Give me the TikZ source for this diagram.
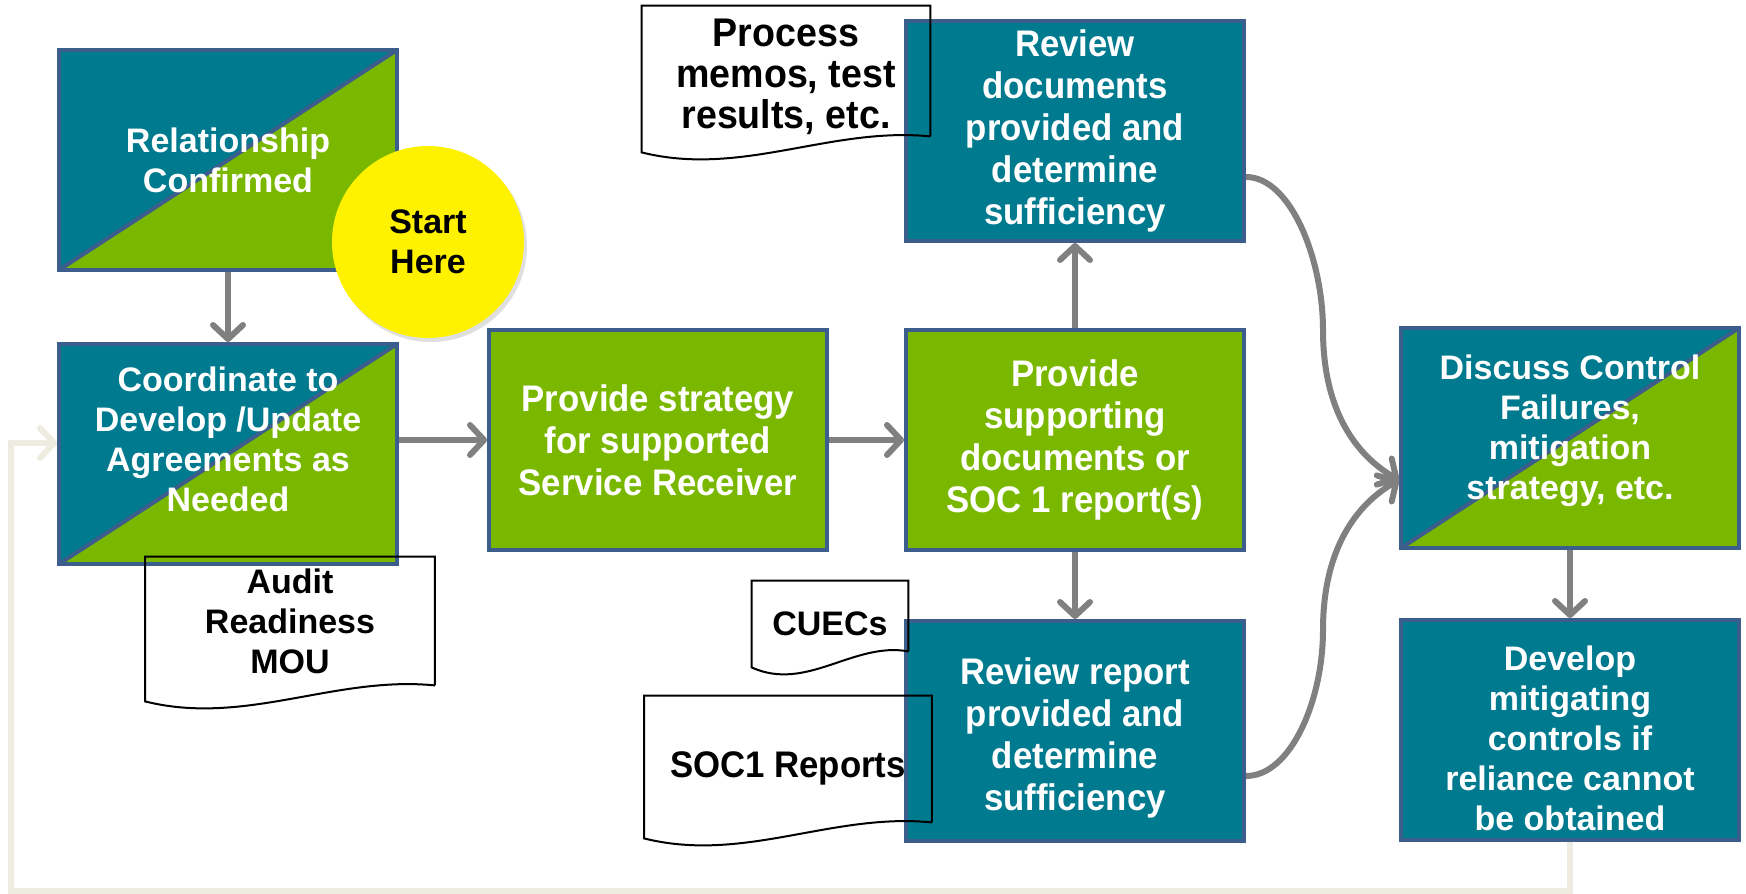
\documentclass[tikz,border=0pt]{standalone}
\usepackage{fontspec}
\setmainfont{Liberation Sans}
\newfontfamily\narrowsans[FakeStretch=0.94]{Liberation Sans}
\usepackage{tikz}
\usetikzlibrary{arrows.meta,shadows}
\definecolor{boxteal}{HTML}{007A8F}
\definecolor{boxgreen}{HTML}{7AB800}
\definecolor{boxedge}{HTML}{3B5E8C}
\definecolor{arrowgray}{HTML}{808080}
\definecolor{loopbeige}{HTML}{EEECE1}
\newcommand\wideb{\bfseries\fontsize{17pt}{20pt}\selectfont}
\newcommand\narrowb{\narrowsans\bfseries\fontsize{18.5pt}{21pt}\selectfont}
\newcommand\docframe[2]{\draw[line width=1pt] (#1.south east) -- (#1.north east) -- (#1.north west) -- ([yshift=-8pt]#1.south west) .. controls +(#2,25) and +(-#2,-10) .. (#1.south east);}

\begin{document}
\begin{tikzpicture}[x=0.5pt, y=-0.5pt,
  box/.style={draw=boxedge, line width=2pt, minimum width=169pt, minimum height=110pt, inner sep=2pt, text=white, align=center, font=\wideb},
  tealbox/.style={box, fill=boxteal},
  greenbox/.style={box, fill=boxgreen},
  splitbox/.style={box, fill=boxgreen, path picture={
    \fill[boxteal] (path picture bounding box.south west) -- (path picture bounding box.north west) -- (path picture bounding box.north east) -- cycle;
    \draw[boxedge, line width=2pt] (path picture bounding box.south west) -- (path picture bounding box.north east);}},
  doc/.style={inner sep=0pt, align=center, font=\wideb},
  startdot/.style={circle, fill=yellow, minimum size=96pt, align=center, font=\wideb, drop shadow={shadow xshift=1.5pt, shadow yshift=-2pt, opacity=0.25}},
  flow/.style={arrowgray, line width=3pt, -{Straight Barb[length=7pt, width=15pt, round]}},
  back/.style={flow, loopbeige}]
  \path[use as bounding box, fill=white] (0,0) rectangle (1746,894);

  \node[splitbox] (rel) at (228,160) {Relationship\\Confirmed};
  \node[splitbox] (coord) at (228,454) {Coordinate to\\Develop /Update\\Agreements as\\Needed\rule[-15pt]{0pt}{0pt}};
  \node[greenbox, font=\narrowb] (strat) at (658,440) {Provide strategy\\for supported\\Service Receiver};
  \node[greenbox, font=\narrowb] (supp) at (1075,440) {Provide\\supporting\\documents or\\SOC 1 report(s)};
  \node[tealbox, font=\narrowb] (revdoc) at (1075,131) {Review\\documents\\provided and\\determine\\sufficiency};
  \node[tealbox, font=\narrowb] (revrep) at (1075,731) {\rule{0pt}{20pt}Review report\\provided and\\determine\\sufficiency};
  \node[splitbox] (disc) at (1570,438) {Discuss Control\\Failures,\\mitigation\\strategy, etc.\rule[-11pt]{0pt}{0pt}};
  \node[tealbox] (dev) at (1570,730) {\rule{0pt}{21pt}Develop\\mitigating\\controls if\\reliance cannot\\be obtained};
  \node[startdot] (start) at (428,242) {Start\\Here};

  \node[doc, minimum width=144pt, minimum height=65pt, font=\narrowsans\bfseries\fontsize{20pt}{20.5pt}\selectfont] (memo) at (786,71) {\rule{0pt}{20pt}Process\\memos, test\\results, etc.};
  \node[doc, minimum width=144.5pt, minimum height=64pt] (mou) at (290,621) {Audit\\Readiness\\MOU};
  \node[doc, minimum width=78pt, minimum height=35pt] (cuec) at (830,616) {\rule{0pt}{20pt}CUECs};
  \node[doc, minimum width=143.5pt, minimum height=63pt, font=\narrowb] (soc) at (788,759) {\rule{0pt}{22pt}SOC1 Reports};
  \docframe{memo}{100}
  \docframe{mou}{100}
  \docframe{cuec}{55}
  \docframe{soc}{100}

  \draw[flow] (rel) -- (coord);
  \draw[flow] (coord.east |- strat.west) -- (strat);
  \draw[flow] (strat) -- (supp);
  \draw[flow] (supp) -- (revdoc);
  \draw[flow] (supp) -- (revrep);
  \draw[flow] (disc) -- (dev);

  \coordinate (hitop) at (1323,330);
  \coordinate (hibot) at (1323,630);
  \draw[flow] ([yshift=-23pt]revdoc.east) .. controls +(45,0) and +(0,-70) .. (hitop) .. controls +(0,90) and +(-35,-20) .. ([yshift=-21pt]disc.west);
  \draw[flow] ([yshift=-22.5pt]revrep.east) .. controls +(45,0) and +(0,70) .. (hibot) .. controls +(0,-90) and +(-35,20) .. ([yshift=-21pt]disc.west);

  \coordinate (loopcorner) at (11,891);
  \draw[back] (dev.south) |- (loopcorner) |- ([yshift=5.5pt]coord.west);
\end{tikzpicture}
\end{document}
